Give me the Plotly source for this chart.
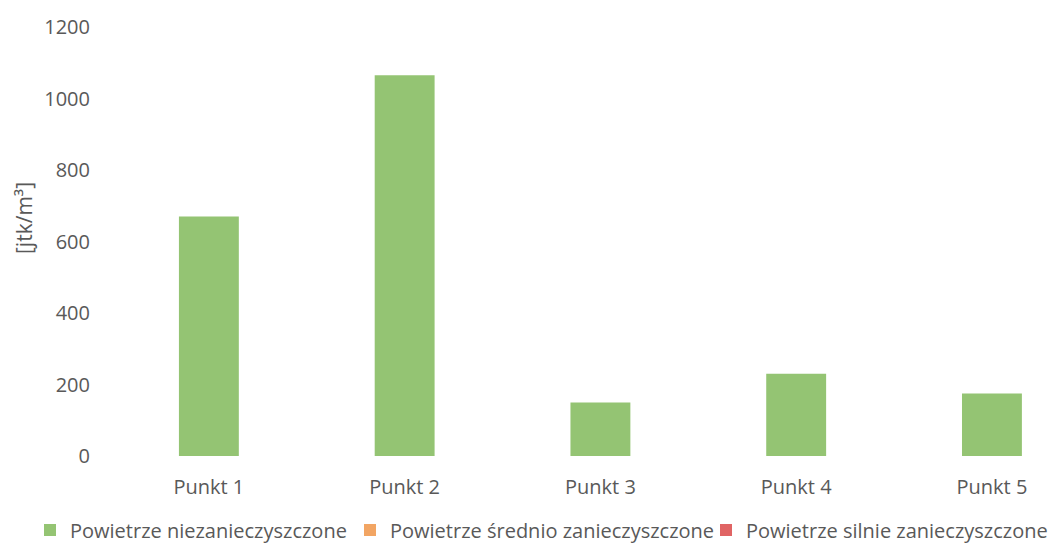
import plotly.graph_objects as go

categories = ["Punkt 1", "Punkt 2", "Punkt 3", "Punkt 4", "Punkt 5"]
niezanieczyszczone = [670, 1065, 150, 230, 175]
srednio = [0, 0, 0, 0, 0]
silnie = [0, 0, 0, 0, 0]
y_ticks = [0, 200, 400, 600, 800, 1000, 1200]

FONT = "Open Sans"
GRAY = "#595959"
W, H = 1054, 546

fig = go.Figure()
fig.add_trace(go.Bar(x=categories, y=srednio, name="Powietrze średnio zanieczyszczone",
                     marker=dict(color="#f2a563", line=dict(width=0)), width=0.306,
                     legend="legend2"))
fig.add_trace(go.Bar(x=categories, y=silnie, name="Powietrze silnie zanieczyszczone",
                     marker=dict(color="#e06464", line=dict(width=0)), width=0.306,
                     legend="legend3"))
fig.add_trace(go.Bar(x=categories, y=niezanieczyszczone, name="Powietrze niezanieczyszczone",
                     marker=dict(color="#94c473", line=dict(width=0)), width=0.306,
                     legend="legend"))

def leg(xpx):
    return dict(orientation="h", xref="container", x=xpx / W, xanchor="left",
                yref="container", y=1 - 530 / H, yanchor="middle",
                font=dict(family=FONT, size=20, color=GRAY), bgcolor="rgba(0,0,0,0)")

fig.update_layout(
    width=W, height=H,
    margin=dict(l=111, r=0, t=27, b=90, autoexpand=False),
    paper_bgcolor="white", plot_bgcolor="white",
    barmode="overlay",
    font=dict(family=FONT, size=20, color=GRAY),
    showlegend=True,
    legend=leg(30), legend2=leg(350), legend3=leg(706),
    annotations=[dict(text="[jtk/m³]", textangle=-90, xref="paper", yref="paper",
                      x=(24 - 111) / 943, y=(456 - 218) / 429, showarrow=False,
                      xanchor="center", yanchor="middle",
                      font=dict(family=FONT, size=21, color=GRAY))],
)
fig.update_xaxes(type="category", range=[-0.5, 4.317], showline=False, showgrid=False,
                 ticks="", ticklabelstandoff=17, tickfont=dict(size=20, color=GRAY),
                 fixedrange=True)
fig.update_yaxes(range=[0, 1200], tickvals=y_ticks, showgrid=False, zeroline=False,
                 showline=False, ticks="", ticklabelstandoff=20,
                 tickfont=dict(size=20, color=GRAY))

fig.write_html("out.html")
